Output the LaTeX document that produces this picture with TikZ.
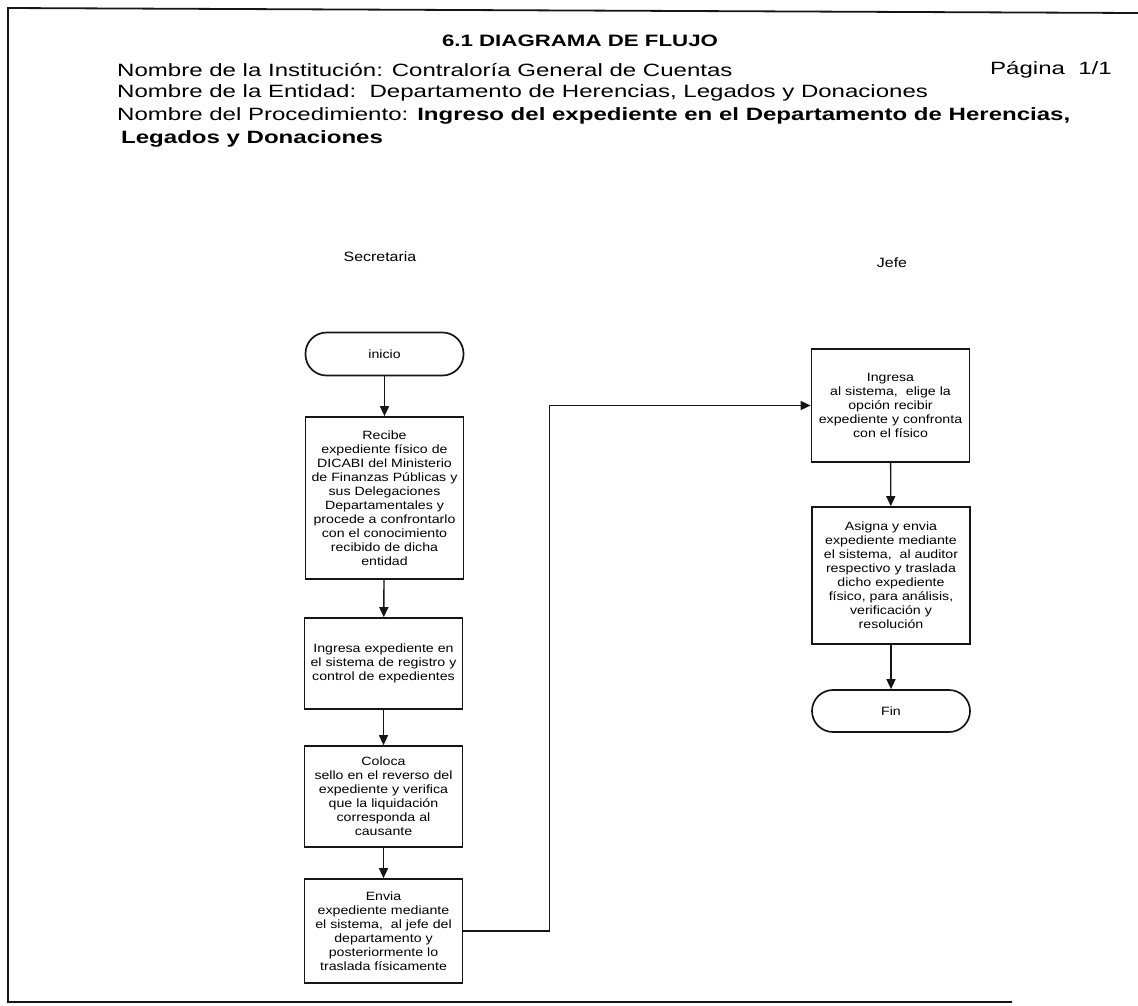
\documentclass[tikz,border=0pt]{standalone}
\usepackage{fontspec}
\setmainfont{Liberation Sans}
\newfontfamily\boxfont[FakeStretch=1.18]{Liberation Sans}
\newfontfamily\cabfont[FakeStretch=1.35]{Liberation Sans}
\usetikzlibrary{arrows.meta}
\definecolor{vink}{HTML}{151515}

\tikzset{
	paso/.style={draw=vink, line width=1.7pt, rectangle, minimum width=158pt, text width=156pt, align=center, inner sep=0pt, font=\boxfont\fontsize{12}{14}\selectfont},
	terminal/.style={draw=vink, line width=1.7pt, rectangle, rounded corners=21pt, minimum width=158pt, minimum height=43pt, inner sep=0pt, font=\boxfont\fontsize{12}{14}\selectfont},
	flecha/.style={draw=vink, line width=1.4pt, -{Triangle[length=10pt,width=9pt]}},
	carril/.style={font=\boxfont\fontsize{13.5}{16}\selectfont},
	cabecera/.style={anchor=west, inner sep=0pt, font=\cabfont\fontsize{17.8}{20}\selectfont}
}

\begin{document}
\begin{tikzpicture}[x=1pt, y=-1pt]
		\useasboundingbox (0,0) rectangle (1138,1005);
		% marco
		\draw[color=vink, line width=1.8pt] (1138,13) -- (8,8) -- (8,1002) -- (1012,1002);
		% encabezado
		\node[inner sep=0pt, font=\cabfont\bfseries\fontsize{16.5}{20}\selectfont] (titulo) at (580,41) {6.1 DIAGRAMA DE FLUJO};
		\node[cabecera] (institucion) at (117,70) {Nombre de la Institución: Contraloría General de Cuentas};
		\node[cabecera] (pagina) at (990,70) {Página\ \ 1/1};
		\node[cabecera] (entidad) at (117,93) {Nombre de la Entidad:\ \ Departamento de Herencias, Legados y Donaciones};
		\node[cabecera] (procedimiento) at (117,116) {Nombre del Procedimiento: \textbf{Ingreso del expediente en el Departamento de Herencias,}};
		\node[cabecera] (procedimiento2) at (121,139) {\textbf{Legados y Donaciones}};
		% carriles
		\node[carril] (secretaria) at (380,257) {Secretaria};
		\node[carril] (jefe) at (892,263) {Jefe};
		% secretaria
		\node[terminal] (inicio) at (384.5,354) {inicio};
		\node[paso, minimum height=162pt] (recibe) at (384.5,498) {Recibe\\expediente físico de\\DICABI del Ministerio\\de Finanzas Públicas y\\sus Delegaciones\\Departamentales y\\procede a confrontarlo\\con el conocimiento\\recibido de dicha\\entidad};
		\node[paso, minimum height=91pt] (ingresa) at (383.5,663.5) {Ingresa expediente en\\el sistema de registro y\\control de expedientes};
		\node[paso, minimum height=101pt] (coloca) at (383.5,796.5) {Coloca\\sello en el reverso del\\expediente y verifica\\que la liquidación\\corresponda al\\causante};
		\node[paso, minimum height=104pt] (envia) at (383.5,931) {Envia\\expediente mediante\\el sistema,\ \ al jefe del\\departamento y\\posteriormente lo\\traslada físicamente};
		% jefe
		\node[paso, minimum height=113pt] (recibir) at (890.5,405.5) {Ingresa\\al sistema,\ \ elige la\\opción recibir\\expediente y confronta\\con el físico};
		\node[paso, minimum height=137pt] (asigna) at (891,575.5) {Asigna y envia\\expediente mediante\\el sistema,\ \ al auditor\\respectivo y traslada\\dicho expediente\\físico, para análisis,\\verificación y\\resolución};
		\node[terminal, minimum height=42pt] (fin) at (891,711) {Fin};
		% flechas
		\draw[flecha] (inicio) -- (recibe);
		\draw[flecha] (recibe) -- (ingresa);
		\draw[flecha] (ingresa) -- (coloca);
		\draw[flecha] (coloca) -- (envia);
		\draw[flecha] (envia.east) -- ++(86,0) |- (recibir.west);
		\draw[flecha] (recibir) -- (asigna);
		\draw[flecha] (asigna) -- (fin);
	\end{tikzpicture}
\end{document}
